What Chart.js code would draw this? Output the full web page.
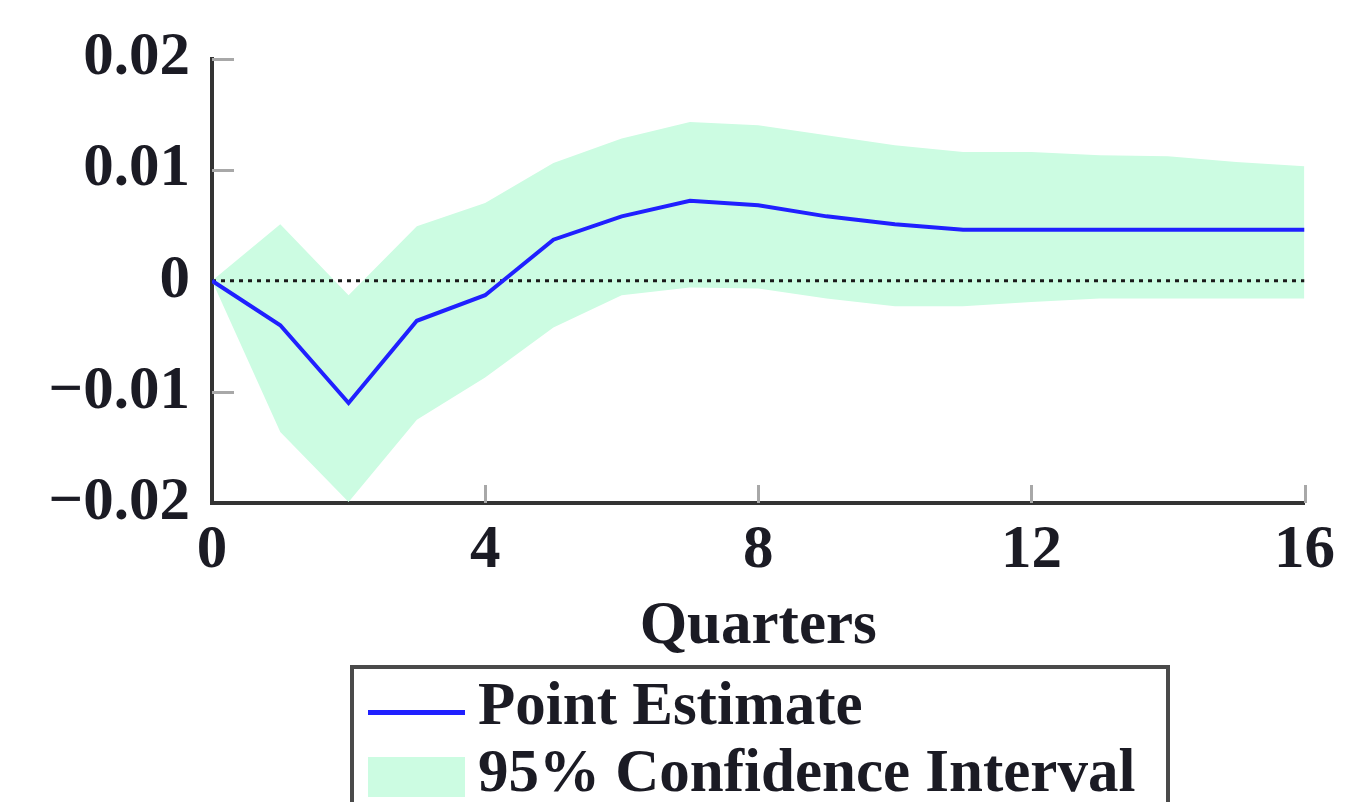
<!DOCTYPE html>
<html>
<head>
<meta charset="utf-8">
<title>Impulse response</title>
<script src="https://cdn.jsdelivr.net/npm/chart.js@4.4.1/dist/chart.umd.min.js"></script>
<style>
    html, body { margin: 0; padding: 0; background: #fff; overflow: hidden; }
    #wrap { position: relative; width: 1347px; height: 802px; }
    #chart { position: absolute; left: 0; top: 0; }
    .legend {
        position: absolute; left: 350px; top: 665px; width: 820px; height: 170px;
        box-sizing: border-box; border: 4px solid #4a4a4a; background: #fff;
        font-family: "Liberation Serif", "DejaVu Serif", serif; font-size: 61px; font-weight: bold; color: #1b1b24;
    }
    .legend .sw, .legend .txt { position: absolute; }
    .legend .txt { line-height: 61px; white-space: nowrap; }
</style>
</head>
<body>
<div id="wrap">
    <canvas id="chart" width="1347" height="802"></canvas>
    <div class="legend">
        <div class="sw" style="left:14px; top:41px; width:97px; height:5px; background:#2020ff;"></div>
        <div class="txt" style="left:124px; top:4px;">Point Estimate</div>
        <div class="sw" style="left:14px; top:88px; width:97px; height:40px; background:#ccfce2;"></div>
        <div class="txt" style="left:124px; top:71px;">95% Confidence Interval</div>
    </div>
</div>
<script>
// quarters after the shock
const quarters = [0, 1, 2, 3, 4, 5, 6, 7, 8, 9, 10, 11, 12, 13, 14, 15, 16];

// values
const pointEstimate = [0, -0.0040, -0.0110, -0.0036, -0.0013, 0.0037, 0.0058, 0.0072, 0.0068,
    0.0058, 0.0051, 0.0046, 0.0046, 0.0046, 0.0046, 0.0046, 0.0046];
const upperBand = [0, 0.0051, -0.0013, 0.0049, 0.0070, 0.0106, 0.0128, 0.0143, 0.0140,
    0.0131, 0.0122, 0.0116, 0.0116, 0.0113, 0.0112, 0.0107, 0.0103];
const lowerBand = [0, -0.0136, -0.0199, -0.0125, -0.0087, -0.0042, -0.0013, -0.0006, -0.0007,
    -0.0016, -0.0023, -0.0023, -0.0019, -0.0016, -0.0016, -0.0016, -0.0016];
const zeroLine = [0, 0];
const zeroLineX = [0, 16];

// axis ticks
const xTickValues = [0, 4, 8, 12, 16];
const xTickLabels = ['0', '4', '8', '12', '16'];
const yTickValues = [-0.02, -0.01, 0, 0.01, 0.02];
const yTickLabels = ['\u22120.02', '\u22120.01', '0', '0.01', '0.02'];

const toPoints = (xs, ys) => xs.map((x, i) => ({ x: x, y: ys[i] }));

const serif = '"Liberation Serif", "DejaVu Serif", serif';
const textColor = '#1b1b24';
const labelFont = { family: serif, size: 61, weight: 'bold' };

// tick marks point into the plot, so draw them by hand
const innerTicks = {
    id: 'innerTicks',
    beforeDatasetsDraw(chart) {
        const { ctx, chartArea, scales: { x, y } } = chart;
        ctx.save();
        ctx.strokeStyle = '#a8a8a8';
        ctx.lineWidth = 3;
        ctx.beginPath();
        yTickValues.forEach(v => {
            if (v === 0 || v === -0.02) return;
            const py = Math.round(y.getPixelForValue(v)) + 0.5;
            ctx.moveTo(chartArea.left, py);
            ctx.lineTo(chartArea.left + 22, py);
        });
        xTickValues.forEach(v => {
            if (v === 0) return;
            const px = Math.round(x.getPixelForValue(v)) + 0.5;
            ctx.moveTo(px, chartArea.bottom);
            ctx.lineTo(px, chartArea.bottom - 18);
        });
        ctx.stroke();
        ctx.restore();
    }
};

const ctx = document.getElementById('chart').getContext('2d');
new Chart(ctx, {
    type: 'line',
    data: {
        datasets: [
            {
                label: 'upper',
                data: toPoints(quarters, upperBand),
                borderWidth: 0,
                backgroundColor: '#ccfce2',
                fill: '+1',
                pointRadius: 0,
                order: 3
            },
            {
                label: 'lower',
                data: toPoints(quarters, lowerBand),
                borderWidth: 0,
                fill: false,
                pointRadius: 0,
                order: 2
            },
            {
                label: 'zero',
                data: toPoints(zeroLineX, zeroLine),
                borderColor: '#1a1a1a',
                borderWidth: 3,
                borderDash: [4, 5],
                fill: false,
                pointRadius: 0,
                order: 1
            },
            {
                label: 'Point Estimate',
                data: toPoints(quarters, pointEstimate),
                borderColor: '#2020ff',
                borderWidth: 4,
                fill: false,
                pointRadius: 0,
                order: 0
            }
        ]
    },
    options: {
        responsive: false,
        animation: false,
        devicePixelRatio: 1,
        layout: { padding: { left: 0, top: 58, right: 42, bottom: 138 } },
        elements: { line: { tension: 0 } },
        plugins: {
            legend: { display: false },
            tooltip: { enabled: false }
        },
        scales: {
            x: {
                type: 'linear',
                min: 0,
                max: 16,
                afterFit: s => { s.height = 161; },
                afterBuildTicks: s => { s.ticks = xTickValues.map(v => ({ value: v })); },
                grid: { display: false, drawTicks: false },
                border: { display: true, color: '#333', width: 4 },
                ticks: {
                    padding: 12,
                    color: textColor,
                    font: labelFont,
                    callback: v => xTickLabels[xTickValues.indexOf(v)]
                },
                title: {
                    display: true,
                    text: 'Quarters',
                    color: textColor,
                    padding: 0,
                    font: labelFont
                }
            },
            y: {
                min: -0.02,
                max: 0.02,
                afterFit: s => { s.width = 212; },
                afterBuildTicks: s => { s.ticks = yTickValues.map(v => ({ value: v })); },
                grid: { display: false, drawTicks: false },
                border: { display: true, color: '#333', width: 4 },
                ticks: {
                    padding: 22,
                    color: textColor,
                    font: labelFont,
                    callback: v => yTickLabels[yTickValues.findIndex(t => Math.abs(t - v) < 1e-9)]
                }
            }
        }
    },
    plugins: [innerTicks]
});
</script>
</body>
</html>
